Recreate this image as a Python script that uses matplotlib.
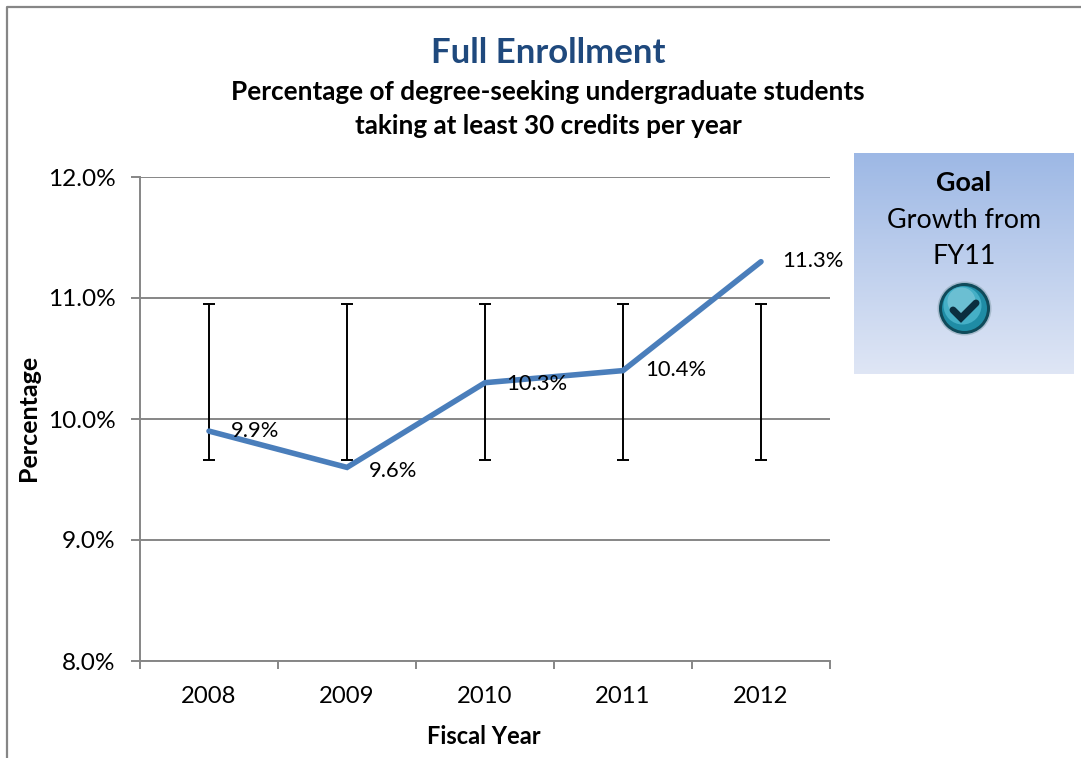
import numpy as np
import matplotlib
matplotlib.use("Agg")
import matplotlib.pyplot as plt
from matplotlib.patches import Circle

plt.rcParams['font.family'] = ['Lato', 'DejaVu Sans']

# data
years = ['2008', '2009', '2010', '2011', '2012']
values = [9.9, 9.6, 10.3, 10.4, 11.3]
value_labels = ['9.9%', '9.6%', '10.3%', '10.4%', '11.3%']
band_low = [9.66, 9.66, 9.66, 9.66, 9.66]
band_high = [10.95, 10.95, 10.95, 10.95, 10.95]
y_ticks = [8, 9, 10, 11, 12]
# label offset from the point, in pixels
label_dx = [46, 46, 52, 53, 52]
label_dy = [0, -4, -1, 1, 1]

W, H = 1081, 758
GRAY = '#868686'
fig = plt.figure(figsize=(W / 100, H / 100), dpi=100)

# pixel overlay for the chart frame
bg = fig.add_axes([0, 0, 1, 1])
bg.set_xlim(0, W)
bg.set_ylim(H, 0)
bg.axis('off')
bg.plot([7, 7, W], [H, 7, 7], color=GRAY, lw=1.6)

# main plot
ax = fig.add_axes([140 / W, 1 - 661 / H, 690 / W, 484 / H])
ax.patch.set_alpha(0)
x = np.arange(len(years))
ax.set_xlim(-0.5, 4.5)
ax.set_ylim(8, 12)
ax.set_yticks(y_ticks)
ax.set_yticklabels([f'{t:.1f}%' for t in y_ticks], fontsize=17.6, color='black')
ax.set_xticks(x)
ax.set_xticklabels(years, fontsize=17.2, color='black')
ax.set_xticks(np.arange(-0.5, 5), minor=True)
ax.tick_params(axis='x', which='major', length=0, pad=18)
ax.tick_params(axis='x', which='minor', length=6, width=1.4, color=GRAY)
ax.tick_params(axis='y', length=6.5, width=1.4, color=GRAY, pad=11)
ax.grid(axis='y', color=GRAY, lw=1.4)
ax.set_axisbelow(True)
for side in ['top', 'right']:
    ax.spines[side].set_visible(False)
for side in ['left', 'bottom']:
    ax.spines[side].set_color(GRAY)
    ax.spines[side].set_linewidth(1.4)

ax.vlines(x, band_low, band_high, color='black', lw=1.4, zorder=3)
ax.plot(x, band_low, ls='none', marker='_', ms=9, mew=1.4, color='black', zorder=3)
ax.plot(x, band_high, ls='none', marker='_', ms=9, mew=1.4, color='black', zorder=3)
ax.plot(x, values, color='#4A7EBB', lw=4, solid_capstyle='round',
        solid_joinstyle='miter', zorder=4)

for i in range(len(years)):
    ax.annotate(value_labels[i], (x[i], values[i]), xytext=(label_dx[i] * 0.72, label_dy[i] * 0.72),
                textcoords='offset points', ha='center', va='center',
                fontsize=15.8, color='black', zorder=5)

fig.text(29 / W, 1 - 418 / H, 'Percentage', rotation=90, ha='center', va='center',
         fontsize=18, fontweight='bold')
fig.text(484 / W, 1 - 736 / H, 'Fiscal Year', ha='center', va='center',
         fontsize=17, fontweight='bold')

# titles
fig.text(548 / W, 1 - 53 / H, 'Full Enrollment', ha='center', va='center',
         fontsize=25, fontweight='bold', color='#1F497D')
fig.text(548 / W, 1 - 92 / H, 'Percentage of degree-seeking undergraduate students',
         ha='center', va='center', fontsize=18.8, fontweight='bold')
fig.text(548 / W, 1 - 126 / H, 'taking at least 30 credits per year',
         ha='center', va='center', fontsize=18.8, fontweight='bold')

# goal box
box = fig.add_axes([854 / W, 1 - 374 / H, 220 / W, 221 / H])
box.axis('off')
top_col = np.array([0x9D, 0xB8, 0xE5]) / 255
bot_col = np.array([0xDF, 0xE6, 0xF5]) / 255
grad = np.linspace(0, 1, 221)[:, None, None]
box.imshow(top_col + (bot_col - top_col) * grad, aspect='auto', extent=[854, 1074, 374, 153])

over = fig.add_axes([0, 0, 1, 1])
over.set_xlim(0, W)
over.set_ylim(H, 0)
over.axis('off')
over.patch.set_alpha(0)
over.text(964, 183, 'Goal', ha='center', va='center', fontsize=19.4, fontweight='bold')
over.text(964, 220, 'Growth from', ha='center', va='center', fontsize=19.4)
over.text(964, 256, 'FY11', ha='center', va='center', fontsize=19.4)

# check icon
cx, cy = 964.5, 308.5
over.add_patch(Circle((cx, cy), 27, fc='#7F9AA8', ec='none', alpha=0.5))
over.add_patch(Circle((cx, cy), 25.5, fc='#0F4A5A', ec='none'))
over.add_patch(Circle((cx, cy), 22.5, fc='#1F8CA5', ec='none'))
over.add_patch(Circle((cx - 2, cy - 3), 19, fc='#45AFC6', ec='none'))
over.add_patch(Circle((cx - 3, cy - 7), 14, fc='#7CC7D8', ec='none', alpha=0.7))
over.plot([953, 961, 976], [310, 318, 303], color='#0B2E3F', lw=5,
          solid_capstyle='round', solid_joinstyle='miter')

fig.savefig('out.png', dpi=100)
